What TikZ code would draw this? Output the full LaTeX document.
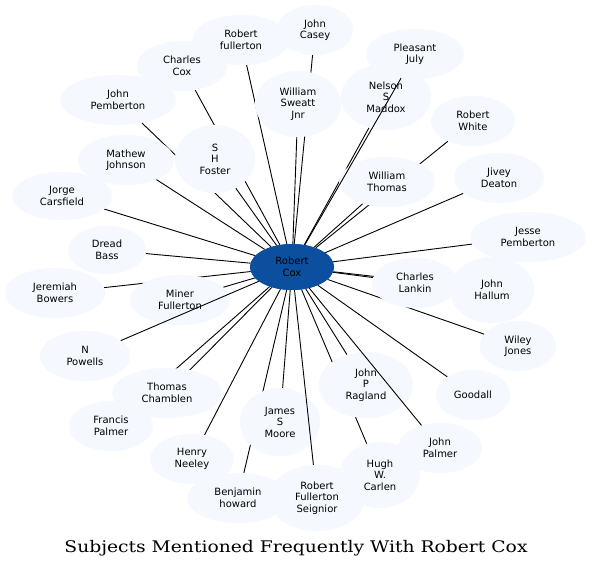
\documentclass[tikz,border=0pt]{standalone}
\usepackage{fontspec}
\setmainfont{DejaVu Sans}
\newfontfamily\titlefont[FakeStretch=1.17]{DejaVu Serif}
\usetikzlibrary{shapes.geometric}
\definecolor{nodefill}{RGB}{245,249,255}
\definecolor{centerfill}{RGB}{11,79,158}
\tikzset{
  person/.style={ellipse, fill=nodefill, draw=none, inner sep=0pt, align=center,
    font=\fontsize{10}{11.5}\selectfont},
  hub/.style={person, fill=centerfill},
  link/.style={draw=black, line width=0.9pt},
  allnodes/.code={},
}
\newcommand{\peoplenodes}[1]{%
\path
 (315,30)  node[person, minimum width=76pt,  minimum height=50pt] (casey#1) {John\\Casey}
 (241,40)  node[person, minimum width=96pt,  minimum height=50pt] (rfullerton#1) {Robert\\fullerton}
 (182,66)  node[person, minimum width=90pt,  minimum height=50pt] (ccox#1) {Charles\\Cox}
 (118,100) node[person, minimum width=116pt, minimum height=50pt] (jpemberton#1) {John\\Pemberton}
 (298,104) node[person, minimum width=86pt,  minimum height=66pt] (sweatt#1) {William\\Sweatt\\Jnr}
 (215,159) node[person, minimum width=80pt,  minimum height=68pt] (foster#1) {S\\H\\Foster}
 (126,160) node[person, minimum width=96pt,  minimum height=50pt] (mjohnson#1) {Mathew\\Johnson}
 (62,196)  node[person, minimum width=100pt, minimum height=48pt] (jorge#1) {Jorge\\Carsfield}
 (107,250) node[person, minimum width=78pt,  minimum height=48pt] (dread#1) {Dread\\Bass}
 (415,54)  node[person, minimum width=98pt,  minimum height=50pt] (pleasant#1) {Pleasant\\July}
 (386,97)  node[person, minimum width=90pt,  minimum height=66pt] (nelson#1) {Nelson\\S\\Maddox}
 (473,121) node[person, minimum width=84pt,  minimum height=50pt] (rwhite#1) {Robert\\White}
 (387,182) node[person, minimum width=96pt,  minimum height=50pt] (wthomas#1) {William\\Thomas}
 (499,178) node[person, minimum width=90pt,  minimum height=50pt] (jivey#1) {Jivey\\Deaton}
 (528,237) node[person, minimum width=116pt, minimum height=50pt] (jesse#1) {Jesse\\Pemberton}
 (492,290) node[person, minimum width=84pt,  minimum height=66pt] (hallum#1) {John\\Hallum}
 (415,283) node[person, minimum width=86pt,  minimum height=50pt] (lankin#1) {Charles\\Lankin}
 (518,346) node[person, minimum width=76pt,  minimum height=50pt] (wiley#1) {Wiley\\Jones}
 (473,395) node[person, minimum width=74pt,  minimum height=50pt] (goodall#1) {Goodall}
 (380,475) node[person, minimum width=80pt,  minimum height=66pt] (carlen#1) {Hugh\\W.\\Carlen}
 (366,385) node[person, minimum width=94pt,  minimum height=66pt] (ragland#1) {John\\P\\Ragland}
 (440,448) node[person, minimum width=84pt,  minimum height=50pt] (jpalmer#1) {John\\Palmer}
 (317,498) node[person, minimum width=96pt,  minimum height=66pt] (seignior#1) {Robert\\Fullerton\\Seignior}
 (238,498) node[person, minimum width=102pt, minimum height=50pt] (bhoward#1) {Benjamin\\howard}
 (280,422) node[person, minimum width=80pt,  minimum height=68pt] (moore#1) {James\\S\\Moore}
 (192,459) node[person, minimum width=84pt,  minimum height=50pt] (neeley#1) {Henry\\Neeley}
 (111,426) node[person, minimum width=84pt,  minimum height=50pt] (fpalmer#1) {Francis\\Palmer}
 (167,393) node[person, minimum width=110pt, minimum height=50pt] (chamblen#1) {Thomas\\Chamblen}
 (85,356)  node[person, minimum width=90pt,  minimum height=50pt] (powells#1) {N\\Powells}
 (55,293)  node[person, minimum width=100pt, minimum height=50pt] (jeremiah#1) {Jeremiah\\Bowers}
 (180,300) node[person, minimum width=100pt, minimum height=50pt] (miner#1) {Miner\\Fullerton}
 (292,267) node[hub, minimum width=84pt, minimum height=46pt] (rcox#1) {Robert\\Cox};}
\begin{document}
\begin{tikzpicture}[x=1pt,y=-1pt]
\useasboundingbox (0,0) rectangle (592,569);
% nodes placed first so that the edges can refer to them
\peoplenodes{}
% edges that the nodes cover
\foreach \t in {casey,rfullerton,ccox,jpemberton,sweatt,foster,mjohnson,jorge,dread,
  nelson,rwhite,wthomas,jivey,jesse,hallum,lankin,wiley,goodall,carlen,ragland,
  bhoward,moore,neeley,fpalmer,chamblen,jeremiah,miner}
  \draw[link] (rcox) -- (\t);
% the nodes again, on top of those edges
\peoplenodes{x}
% edges drawn over other nodes
\draw[link] (rcox) -- (pleasant);
\draw[link] (rcox) -- (powells);
\draw[link] (rcox) -- (jpalmer);
\draw[link] (rcox) -- (seignior);
\node[font=\titlefont\fontsize{16}{18}\selectfont] (title) at (296,548) {Subjects Mentioned Frequently With Robert Cox};
\end{tikzpicture}
\end{document}
